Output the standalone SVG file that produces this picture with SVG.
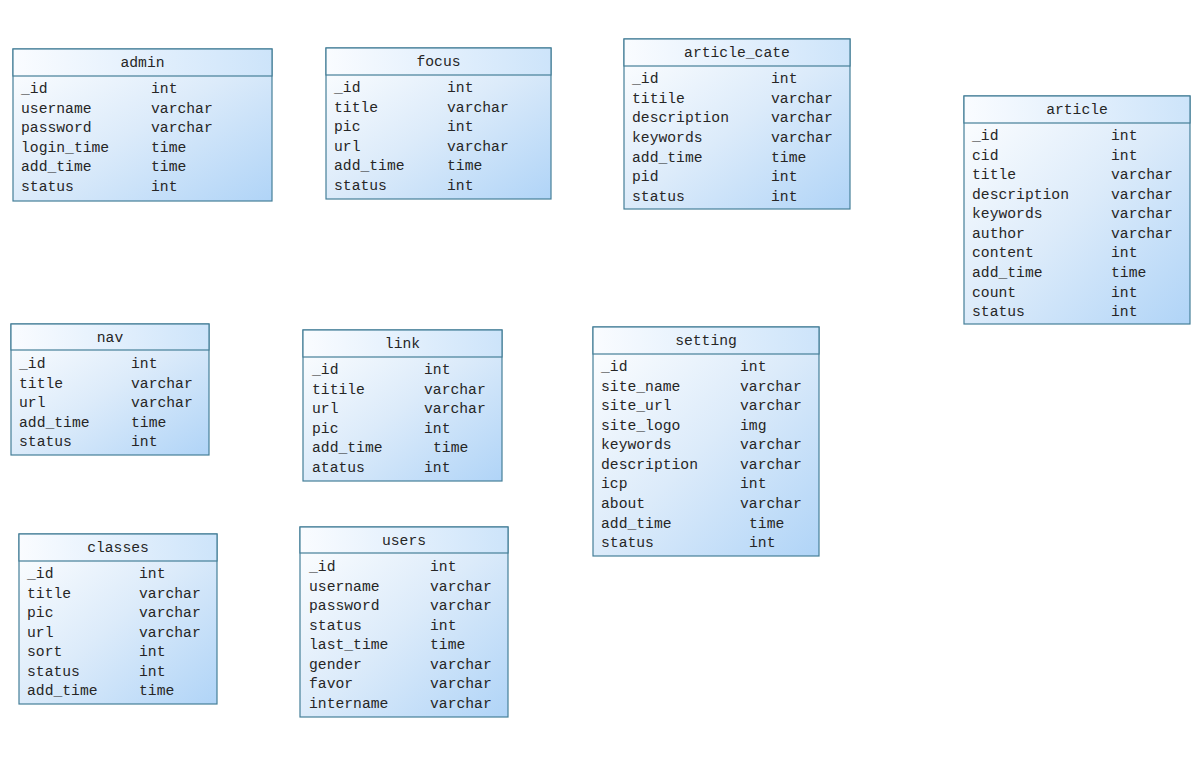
<svg xmlns="http://www.w3.org/2000/svg" width="1196" height="758" viewBox="0 0 1196 758">
<defs>
<linearGradient id="hg" x1="0" y1="0" x2="1" y2="0">
<stop offset="0" stop-color="#fafcff"/>
<stop offset="1" stop-color="#cde4fa"/>
</linearGradient>
<linearGradient id="bg" x1="0" y1="0" x2="1" y2="1">
<stop offset="0" stop-color="#ffffff"/>
<stop offset="0.5" stop-color="#dcebfa"/>
<stop offset="1" stop-color="#b0d4f7"/>
</linearGradient>
<style>
.box{fill:url(#bg);stroke:#457f98;stroke-width:1.2}
.hd{fill:url(#hg);stroke:#457f98;stroke-width:1.2}
text{font-family:"Liberation Mono","DejaVu Sans Mono",monospace;font-size:14.7px;fill:#262626}
.t{text-anchor:middle}
</style>
</defs>
<rect width="1196" height="758" fill="#ffffff"/>
<g id="connectors"/>

<g id="admin">
<rect class="box" x="13" y="49" width="259" height="152"/>
<rect class="hd" x="13" y="49" width="259" height="27"/>
<text class="t" x="142.5" y="67">admin</text>
<text x="21" y="93">_id</text><text x="151" y="93">int</text>
<text x="21" y="112.6">username</text><text x="151" y="112.6">varchar</text>
<text x="21" y="132.2">password</text><text x="151" y="132.2">varchar</text>
<text x="21" y="151.8">login_time</text><text x="151" y="151.8">time</text>
<text x="21" y="171.4">add_time</text><text x="151" y="171.4">time</text>
<text x="21" y="191">status</text><text x="151" y="191">int</text>
</g>

<g id="focus">
<rect class="box" x="326" y="48" width="225" height="151"/>
<rect class="hd" x="326" y="48" width="225" height="27"/>
<text class="t" x="438.5" y="66">focus</text>
<text x="334" y="92">_id</text><text x="447" y="92">int</text>
<text x="334" y="111.6">title</text><text x="447" y="111.6">varchar</text>
<text x="334" y="131.2">pic</text><text x="447" y="131.2">int</text>
<text x="334" y="150.8">url</text><text x="447" y="150.8">varchar</text>
<text x="334" y="170.4">add_time</text><text x="447" y="170.4">time</text>
<text x="334" y="190">status</text><text x="447" y="190">int</text>
</g>

<g id="article_cate">
<rect class="box" x="624" y="39" width="226" height="170"/>
<rect class="hd" x="624" y="39" width="226" height="27"/>
<text class="t" x="737" y="57">article_cate</text>
<text x="632" y="83">_id</text><text x="771" y="83">int</text>
<text x="632" y="102.7">titile</text><text x="771" y="102.7">varchar</text>
<text x="632" y="122.3">description</text><text x="771" y="122.3">varchar</text>
<text x="632" y="142">keywords</text><text x="771" y="142">varchar</text>
<text x="632" y="161.7">add_time</text><text x="771" y="161.7">time</text>
<text x="632" y="181.3">pid</text><text x="771" y="181.3">int</text>
<text x="632" y="201">status</text><text x="771" y="201">int</text>
</g>

<g id="article">
<rect class="box" x="964" y="96" width="226" height="228"/>
<rect class="hd" x="964" y="96" width="226" height="27"/>
<text class="t" x="1077" y="114">article</text>
<text x="972" y="140">_id</text><text x="1111" y="140">int</text>
<text x="972" y="159.6">cid</text><text x="1111" y="159.6">int</text>
<text x="972" y="179.1">title</text><text x="1111" y="179.1">varchar</text>
<text x="972" y="198.7">description</text><text x="1111" y="198.7">varchar</text>
<text x="972" y="218.2">keywords</text><text x="1111" y="218.2">varchar</text>
<text x="972" y="237.8">author</text><text x="1111" y="237.8">varchar</text>
<text x="972" y="257.4">content</text><text x="1111" y="257.4">int</text>
<text x="972" y="276.9">add_time</text><text x="1111" y="276.9">time</text>
<text x="972" y="296.5">count</text><text x="1111" y="296.5">int</text>
<text x="972" y="316">status</text><text x="1111" y="316">int</text>
</g>

<g id="nav">
<rect class="box" x="11" y="324" width="198" height="131"/>
<rect class="hd" x="11" y="324" width="198" height="26"/>
<text class="t" x="110" y="342">nav</text>
<text x="19" y="368">_id</text><text x="131" y="368">int</text>
<text x="19" y="387.5">title</text><text x="131" y="387.5">varchar</text>
<text x="19" y="407">url</text><text x="131" y="407">varchar</text>
<text x="19" y="426.5">add_time</text><text x="131" y="426.5">time</text>
<text x="19" y="446">status</text><text x="131" y="446">int</text>
</g>

<g id="link">
<rect class="box" x="303" y="330" width="199" height="151"/>
<rect class="hd" x="303" y="330" width="199" height="27"/>
<text class="t" x="402.5" y="348">link</text>
<text x="312" y="374">_id</text><text x="424" y="374">int</text>
<text x="312" y="393.6">titile</text><text x="424" y="393.6">varchar</text>
<text x="312" y="413.2">url</text><text x="424" y="413.2">varchar</text>
<text x="312" y="432.8">pic</text><text x="424" y="432.8">int</text>
<text x="312" y="452.4">add_time</text><text x="433" y="452.4">time</text>
<text x="312" y="472">atatus</text><text x="424" y="472">int</text>
</g>

<g id="setting">
<rect class="box" x="593" y="327" width="226" height="229"/>
<rect class="hd" x="593" y="327" width="226" height="27"/>
<text class="t" x="706" y="345">setting</text>
<text x="601" y="371">_id</text><text x="740" y="371">int</text>
<text x="601" y="390.6">site_name</text><text x="740" y="390.6">varchar</text>
<text x="601" y="410.1">site_url</text><text x="740" y="410.1">varchar</text>
<text x="601" y="429.7">site_logo</text><text x="740" y="429.7">img</text>
<text x="601" y="449.2">keywords</text><text x="740" y="449.2">varchar</text>
<text x="601" y="468.8">description</text><text x="740" y="468.8">varchar</text>
<text x="601" y="488.4">icp</text><text x="740" y="488.4">int</text>
<text x="601" y="507.9">about</text><text x="740" y="507.9">varchar</text>
<text x="601" y="527.5">add_time</text><text x="749" y="527.5">time</text>
<text x="601" y="547">status</text><text x="749" y="547">int</text>
</g>

<g id="classes">
<rect class="box" x="19" y="534" width="198" height="170"/>
<rect class="hd" x="19" y="534" width="198" height="27"/>
<text class="t" x="118" y="552">classes</text>
<text x="27" y="578">_id</text><text x="139" y="578">int</text>
<text x="27" y="597.5">title</text><text x="139" y="597.5">varchar</text>
<text x="27" y="617">pic</text><text x="139" y="617">varchar</text>
<text x="27" y="636.5">url</text><text x="139" y="636.5">varchar</text>
<text x="27" y="656">sort</text><text x="139" y="656">int</text>
<text x="27" y="675.5">status</text><text x="139" y="675.5">int</text>
<text x="27" y="695">add_time</text><text x="139" y="695">time</text>
</g>

<g id="users">
<rect class="box" x="300" y="527" width="208" height="190"/>
<rect class="hd" x="300" y="527" width="208" height="26"/>
<text class="t" x="404" y="545">users</text>
<text x="309" y="571">_id</text><text x="430" y="571">int</text>
<text x="309" y="590.6">username</text><text x="430" y="590.6">varchar</text>
<text x="309" y="610.1">password</text><text x="430" y="610.1">varchar</text>
<text x="309" y="629.7">status</text><text x="430" y="629.7">int</text>
<text x="309" y="649.3">last_time</text><text x="430" y="649.3">time</text>
<text x="309" y="668.9">gender</text><text x="430" y="668.9">varchar</text>
<text x="309" y="688.4">favor</text><text x="430" y="688.4">varchar</text>
<text x="309" y="708">intername</text><text x="430" y="708">varchar</text>
</g>
</svg>
